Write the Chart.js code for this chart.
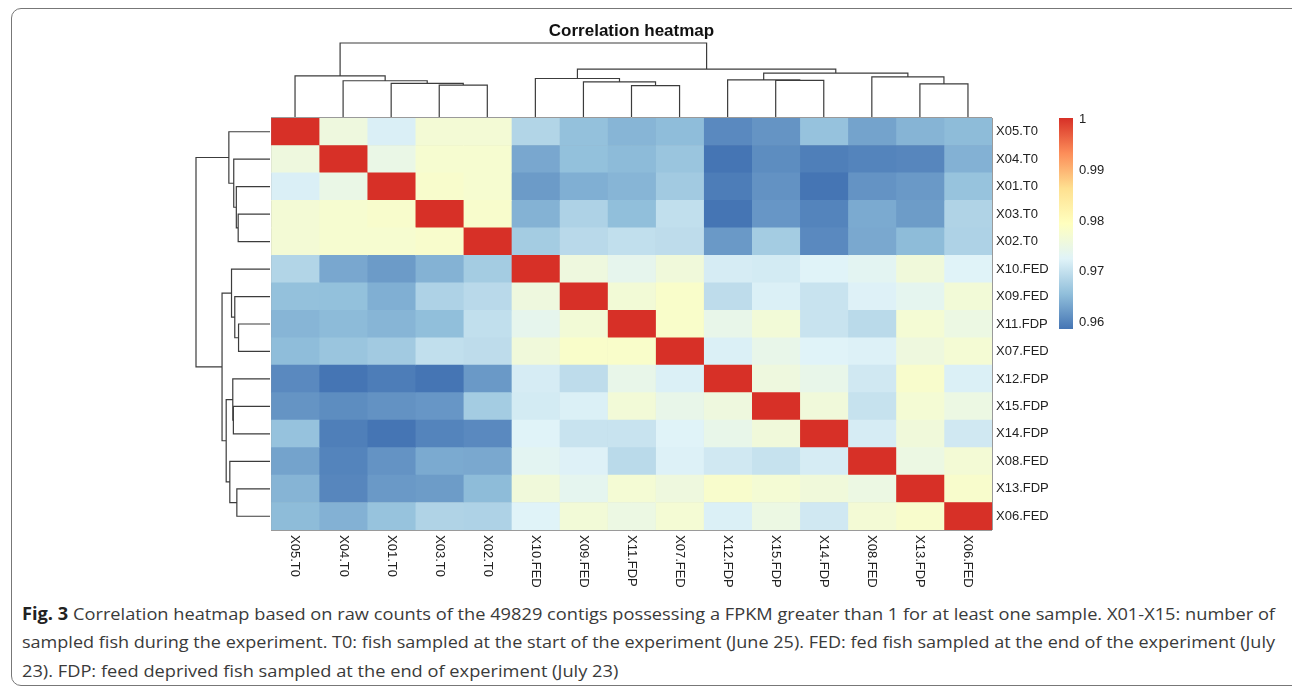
<!DOCTYPE html>
<html>
<head>
<meta charset="utf-8">
<script src="https://cdn.jsdelivr.net/npm/chart.js@4.4.1/dist/chart.umd.min.js"></script>
<style>
  html, body { margin: 0; padding: 0; background: #fff; }
  body { width: 1292px; height: 687px; position: relative; overflow: hidden; }
  #frame {
    position: absolute; left: 11px; top: 8px; width: 1310px; height: 678px;
    border: 1px solid #777; border-radius: 10px; box-sizing: border-box;
  }
  #wrap { position: absolute; left: 0; top: 0; width: 1292px; height: 590px; }
  .cap {
    position: absolute; left: 22px; white-space: nowrap;
    font-family: "Open Sans", "Noto Sans", sans-serif; font-size: 17px;
    line-height: 20px; color: #3a3a3a; transform-origin: 0 50%;
  }
  .cap b { color: #222; }
</style>
</head>
<body>
<div id="frame"></div>
<div id="wrap"><canvas id="heat" width="1292" height="590"></canvas></div>
<div class="cap" id="cap1" style="top:604px"><b>Fig. 3</b> Correlation heatmap based on raw counts of the 49829 contigs possessing a FPKM greater than 1 for at least one sample. X01-X15: number of</div>
<div class="cap" id="cap2" style="top:632px">sampled fish during the experiment. T0: fish sampled at the start of the experiment (June 25). FED: fed fish sampled at the end of the experiment (July</div>
<div class="cap" id="cap3" style="top:661px">23). FDP: feed deprived fish sampled at the end of experiment (July 23)</div>

<script>
// samples in clustered order (rows and columns are the same)
const samples = ['X05.T0', 'X04.T0', 'X01.T0', 'X03.T0', 'X02.T0',
    'X10.FED', 'X09.FED', 'X11.FDP', 'X07.FED',
    'X12.FDP', 'X15.FDP', 'X14.FDP', 'X08.FED', 'X13.FDP', 'X06.FED'];

// correlation values, one row per sample, same order as samples
const corrRows = [
    [1, .9755, .9719, .9766, .9766, .9684, .9658, .9646, .9653, .9605, .9615, .9659, .9629, .9645, .9652],
    [.9755, 1, .9746, .9773, .9773, .9633, .9657, .9651, .9663, .9586, .9608, .9595, .9600, .9602, .9642],
    [.9719, .9746, 1, .9777, .9773, .9621, .9640, .9646, .9670, .9593, .9613, .9586, .9614, .9620, .9660],
    [.9766, .9773, .9777, 1, .9777, .9643, .9680, .9655, .9697, .9586, .9617, .9600, .9635, .9622, .9682],
    [.9766, .9773, .9773, .9777, 1, .9672, .9690, .9697, .9694, .9620, .9672, .9605, .9634, .9652, .9680],
    [.9684, .9633, .9621, .9643, .9672, 1, .9755, .9737, .9760, .9715, .9713, .9724, .9731, .9760, .9724],
    [.9658, .9657, .9640, .9680, .9690, .9755, 1, .9765, .9780, .9694, .9720, .9703, .9722, .9735, .9764],
    [.9646, .9651, .9646, .9655, .9697, .9737, .9765, 1, .9780, .9742, .9764, .9703, .9691, .9768, .9750],
    [.9653, .9663, .9670, .9697, .9694, .9760, .9780, .9780, 1, .9720, .9742, .9724, .9721, .9755, .9768],
    [.9605, .9586, .9593, .9586, .9620, .9715, .9694, .9742, .9720, 1, .9755, .9742, .9710, .9777, .9720],
    [.9615, .9608, .9613, .9617, .9672, .9713, .9720, .9764, .9742, .9755, 1, .9760, .9701, .9768, .9750],
    [.9659, .9595, .9586, .9600, .9605, .9724, .9703, .9703, .9724, .9742, .9760, 1, .9715, .9760, .9710],
    [.9629, .9600, .9614, .9635, .9634, .9731, .9722, .9691, .9721, .9710, .9701, .9715, 1, .9750, .9766],
    [.9645, .9602, .9620, .9622, .9652, .9760, .9735, .9768, .9755, .9777, .9768, .9760, .9750, 1, .9777],
    [.9652, .9642, .9660, .9682, .9680, .9724, .9764, .9750, .9768, .9720, .9750, .9710, .9766, .9777, 1]
];

// hclust style merges: negative = leaf (1-based position), positive = earlier merge
const mergeLeft   = [-8, -4, -14, -3, -7, -2, -11, -10, -6, -13, -1, 8, 9, 11];
const mergeRight  = [-9, -5, -15, 2, 1, 4, -12, 7, 5, 3, 6, 10, 12, 13];
const mergeHeight = [0.425, 0.43, 0.448, 0.455, 0.476, 0.49, 0.495, 0.503, 0.52, 0.543, 0.556, 0.592, 0.648, 1.0];

// colour key
const legendTicks = [0.96, 0.97, 0.98, 0.99, 1];
const colourStops = ['#4575B4', '#91BFDB', '#E0F3F8', '#FFFFBF', '#FEE090', '#FC8D59', '#D73027'];
const scaleMin = 0.9586;
const scaleMax = 1;

const FONT = '"Liberation Sans", Arial, sans-serif';
const LINE = '#3c3c3c';

function hexToRgb(h) {
    return [1, 3, 5].map(i => parseInt(h.slice(i, i + 2), 16));
}

function colourFor(v) {
    const n = colourStops.length - 1;
    const t = Math.min(1, Math.max(0, (v - scaleMin) / (scaleMax - scaleMin))) * n;
    const i = Math.min(n - 1, Math.floor(t));
    const f = t - i;
    const a = hexToRgb(colourStops[i]), b = hexToRgb(colourStops[i + 1]);
    return 'rgb(' + a.map((c, k) => Math.round(c + (b[k] - c) * f)).join(',') + ')';
}

// one stacked dataset per column
const datasets = samples.map((name, j) => ({
    label: name,
    data: corrRows.map(() => 1),
    backgroundColor: corrRows.map(row => colourFor(row[j])),
    borderWidth: 0,
    borderSkipped: false,
    barPercentage: 1,
    categoryPercentage: 1
}));

// walk the merge table and draw the tree
function drawDendro(ctx, leafPos, toPoint) {
    const nodes = [];
    const get = ref => ref < 0 ? { pos: leafPos(-ref - 1), h: 0 } : nodes[ref - 1];
    ctx.beginPath();
    mergeHeight.forEach((h, m) => {
        const a = get(mergeLeft[m]), b = get(mergeRight[m]);
        let p = toPoint(a.pos, a.h); ctx.moveTo(p[0], p[1]);
        p = toPoint(a.pos, h); ctx.lineTo(p[0], p[1]);
        p = toPoint(b.pos, h); ctx.lineTo(p[0], p[1]);
        p = toPoint(b.pos, b.h); ctx.lineTo(p[0], p[1]);
        nodes.push({ pos: (a.pos + b.pos) / 2, h: h });
    });
    ctx.stroke();
}

const heatmapExtras = {
    id: 'heatmapExtras',
    afterDraw(chart) {
        const ctx = chart.ctx;
        const area = chart.chartArea;
        const xs = chart.scales.x, ys = chart.scales.y;
        const dendroSpan = 74;
        ctx.save();

        // title
        ctx.fillStyle = '#111';
        ctx.font = 'bold 17px ' + FONT;
        ctx.textAlign = 'center';
        ctx.textBaseline = 'middle';
        ctx.fillText('Correlation heatmap', (area.left + area.right) / 2, 31);

        // column labels, reading downwards
        ctx.font = '13px ' + FONT;
        ctx.fillStyle = '#222';
        ctx.textAlign = 'left';
        samples.forEach((name, j) => {
            ctx.save();
            ctx.translate(xs.getPixelForValue(j + 0.5), area.bottom + 5);
            ctx.rotate(Math.PI / 2);
            ctx.fillText(name, 0, 0);
            ctx.restore();
        });

        // dendrograms
        ctx.strokeStyle = LINE;
        ctx.lineWidth = 1.2;
        drawDendro(ctx, j => xs.getPixelForValue(j + 0.5),
            (p, h) => [p, area.top - 1 - h * dendroSpan]);
        drawDendro(ctx, i => ys.getPixelForValue(i),
            (p, h) => [area.left - 1 - h * dendroSpan, p]);

        // colour key
        const kx = area.right + 67, kw = 14, ktop = area.top, kh = 211;
        const grad = ctx.createLinearGradient(0, ktop + kh, 0, ktop);
        colourStops.forEach((c, i) => grad.addColorStop(i / (colourStops.length - 1), c));
        ctx.fillStyle = grad;
        ctx.fillRect(kx, ktop, kw, kh);
        ctx.fillStyle = '#222';
        ctx.font = '13px ' + FONT;
        ctx.textBaseline = 'middle';
        legendTicks.forEach(v => {
            const y = ktop + kh - (v - scaleMin) / (scaleMax - scaleMin) * kh;
            ctx.fillText(String(v), kx + kw + 6, y + 1);
        });
        ctx.restore();
    }
};

new Chart(document.getElementById('heat'), {
    type: 'bar',
    data: { labels: samples, datasets: datasets },
    options: {
        indexAxis: 'y',
        responsive: false,
        animation: false,
        layout: { padding: { left: 271, top: 118, right: 0, bottom: 60 } },
        plugins: {
            legend: { display: false },
            tooltip: { enabled: false },
            title: { display: false }
        },
        scales: {
            x: {
                type: 'linear',
                stacked: true,
                min: 0,
                max: samples.length,
                z: 1,
                ticks: { display: false, stepSize: 1 },
                grid: { color: '#9a9a9a', lineWidth: 1, drawTicks: false },
                border: { display: false },
                afterFit(scale) { scale.height = 0; }
            },
            y: {
                position: 'right',
                stacked: true,
                z: 1,
                ticks: { color: '#222', padding: 4, font: { family: FONT, size: 13 } },
                grid: { color: '#9a9a9a', lineWidth: 1, drawTicks: false, offset: true },
                border: { display: false },
                afterFit(scale) { scale.width = 300; }
            }
        }
    },
    plugins: [heatmapExtras]
});

// stretch the first two caption lines to the full text width
const capWidth = 1253;
const c1 = document.getElementById('cap1');
const c2 = document.getElementById('cap2');
const c3 = document.getElementById('cap3');
const s1 = capWidth / c1.getBoundingClientRect().width;
const s2 = capWidth / c2.getBoundingClientRect().width;
c1.style.transform = 'scaleX(' + s1 + ')';
c2.style.transform = 'scaleX(' + s2 + ')';
c3.style.transform = 'scaleX(' + s1 + ')';
</script>
</body>
</html>
